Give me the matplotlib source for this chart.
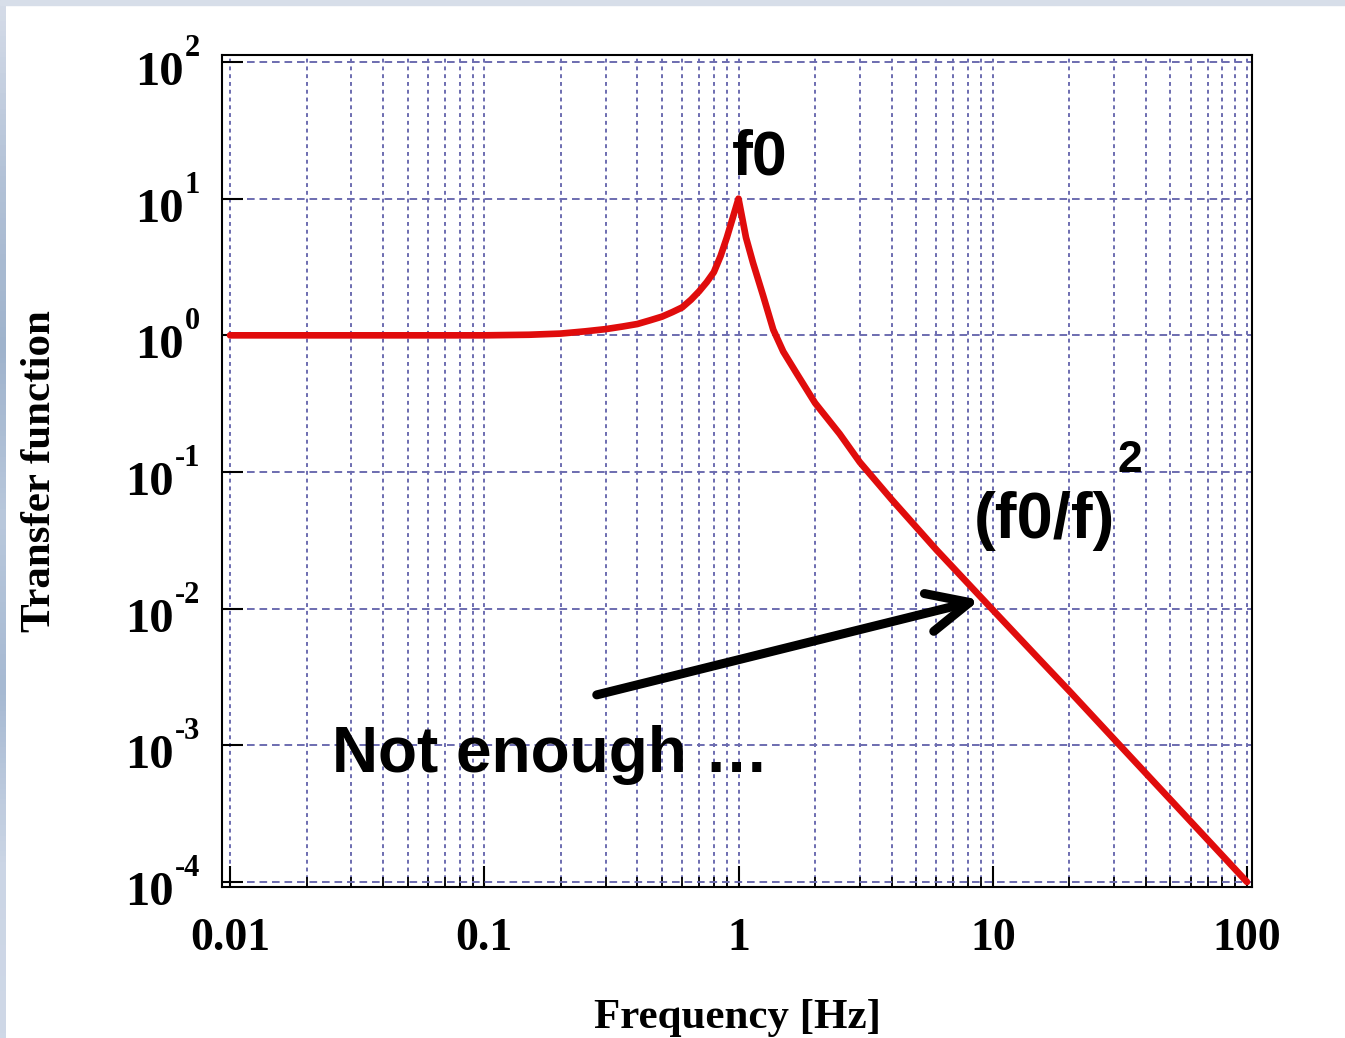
"""Oscillator transfer function on log-log axes, with the f0 resonance
and the (f0/f)^2 roll-off called out."""

import matplotlib

matplotlib.use("Agg")
import matplotlib.pyplot as plt
import numpy as np
from matplotlib.colors import LinearSegmentedColormap
from matplotlib.patches import Rectangle
from matplotlib.ticker import LogLocator, NullFormatter, NullLocator

# response curve: frequency [Hz] -> |H(f)|
FREQ_HZ = [0.01, 0.02, 0.05, 0.1, 0.15, 0.2, 0.25, 0.3, 0.35, 0.4, 0.45,
           0.5, 0.55, 0.6, 0.65, 0.7, 0.75, 0.8, 0.85, 0.9, 1.0, 1.07,
           1.14, 1.25, 1.37, 1.5, 1.7, 2.0, 2.5, 3.0, 4.0, 6.0, 10.0, 15.0,
           20.0, 30.0, 50.0, 70.0, 100.0]
GAIN = [1.0, 1.0, 1.0, 1.0, 1.01, 1.03, 1.07, 1.11, 1.16, 1.21, 1.29,
        1.37, 1.48, 1.6, 1.82, 2.1, 2.45, 2.9, 3.8, 5.2, 10.0, 5.2,
        3.4, 1.95, 1.1, 0.76, 0.52, 0.32, 0.19, 0.118, 0.063, 0.027, 0.0098,
        0.0044, 0.0025, 0.00111, 0.0004, 0.000204, 0.0001]

X_TICKS = [0.01, 0.1, 1, 10, 100]
X_TICK_LABELS = ["0.01", "0.1", "1", "10", "100"]
Y_EXPONENTS = [2, 1, 0, -1, -2, -3, -4]

RED = "#e00c0c"
GRID = "#6c6cb0"
SERIF = "Liberation Serif"
SANS = "Liberation Sans"

plt.rcParams.update({
    "lines.scale_dashes": False,
    "axes.linewidth": 1.5,
})

W, H = 1345, 1038
fig = plt.figure(figsize=(W / 100, H / 100), dpi=100, facecolor="white")

# slide backdrop: thin strip on the left and along the top
strip = fig.add_axes([0, 0, 6 / W, 1])
backdrop = LinearSegmentedColormap.from_list(
    "backdrop", ["#d5dce8", "#b3c2d7", "#9fb3cc", "#b9c8dc", "#a6b9d2",
                 "#cbd5e5", "#cfd8e7"])
strip.imshow(np.linspace(0, 1, 200)[:, None], aspect="auto", cmap=backdrop)
strip.set_axis_off()
fig.patches.append(Rectangle((0, 1 - 5 / H), 1, 5 / H, transform=fig.transFigure,
                             color="#d7dee9", zorder=0))

ax = fig.add_axes([222 / W, 1 - 887 / H, (1252 - 222) / W, (887 - 55) / H])
ax.set_xscale("log")
ax.set_yscale("log")
ax.set_xlim(10 ** (-2 - 8 / 254.25), 10 ** (2 + 5 / 254.25))
ax.set_ylim(10 ** (-4 - 5 / 136.7), 10 ** (2 + 7 / 136.7))

ax.plot(FREQ_HZ, GAIN, color=RED, lw=4.8, solid_joinstyle="round",
        solid_capstyle="round", zorder=3)

# grid: dotted verticals at every decade step, dashed horizontals per decade
ax.set_axisbelow(True)
ax.grid(True, which="both", axis="x", color=GRID, lw=1.4, ls=(0, (2.8, 2.8)))
ax.grid(True, which="major", axis="y", color=GRID, lw=1.4, ls=(0, (5.5, 3.5)))

ax.set_xticks(X_TICKS, X_TICK_LABELS, fontsize=33, fontfamily=SERIF,
              fontweight="bold")
ax.xaxis.set_minor_locator(LogLocator(base=10, subs=np.arange(2, 10), numticks=20))
ax.xaxis.set_minor_formatter(NullFormatter())
ax.set_yticks([10.0 ** e for e in Y_EXPONENTS], [""] * len(Y_EXPONENTS))
ax.yaxis.set_minor_locator(NullLocator())
ax.tick_params(which="major", direction="in", length=15, width=1.5, pad=22,
               top=False, right=False, color="black")
ax.tick_params(which="minor", direction="in", length=7, width=1.3,
               top=False, right=False, color="black")

# y tick labels as 10 with a raised exponent
for e in Y_EXPONENTS:
    sup = ax.annotate(f"{e}", xy=(0, 10.0 ** e), xycoords=("axes fraction", "data"),
                      xytext=(-22, 6), textcoords="offset pixels", ha="right",
                      va="baseline", fontsize=22, fontfamily=SERIF,
                      fontweight="bold")
    ax.annotate("10", xy=(0, 10.0 ** e), xycoords=(sup, "data"),
                xytext=(-1, -23), textcoords="offset pixels", ha="right",
                va="baseline", fontsize=35, fontfamily=SERIF, fontweight="bold")

ax.set_xlabel("Frequency [Hz]", fontsize=31, fontfamily=SERIF, fontweight="bold")
ax.xaxis.set_label_coords(0.5, -0.135)
ax.set_ylabel("Transfer function", fontsize=31, fontfamily=SERIF, fontweight="bold")
ax.yaxis.set_label_coords(-0.158, 0.5)

# call-outs
ax.text(1.215, 14.9, "f0", fontsize=45, fontfamily=SANS, fontweight="bold",
        ha="center", va="baseline")
ax.text(16.0, 0.033, "(f0/f)", fontsize=47, fontfamily=SANS, fontweight="bold",
        ha="center", va="baseline")
ax.text(34.7, 0.1, "2", fontsize=32, fontfamily=SANS, fontweight="bold",
        ha="center", va="baseline")
ax.text(0.0252, 6.4e-4, "Not enough \u2026", fontsize=46, fontfamily=SANS,
        fontweight="bold", ha="left", va="baseline")
ax.annotate("", xy=(8.9, 0.0116), xytext=(0.277, 0.00234),
            arrowprops=dict(arrowstyle="->,head_length=1.5,head_width=0.7",
                            lw=6.5, color="black", shrinkA=0, shrinkB=0,
                            mutation_scale=20))

fig.savefig("out.png", dpi=100, facecolor="white")
